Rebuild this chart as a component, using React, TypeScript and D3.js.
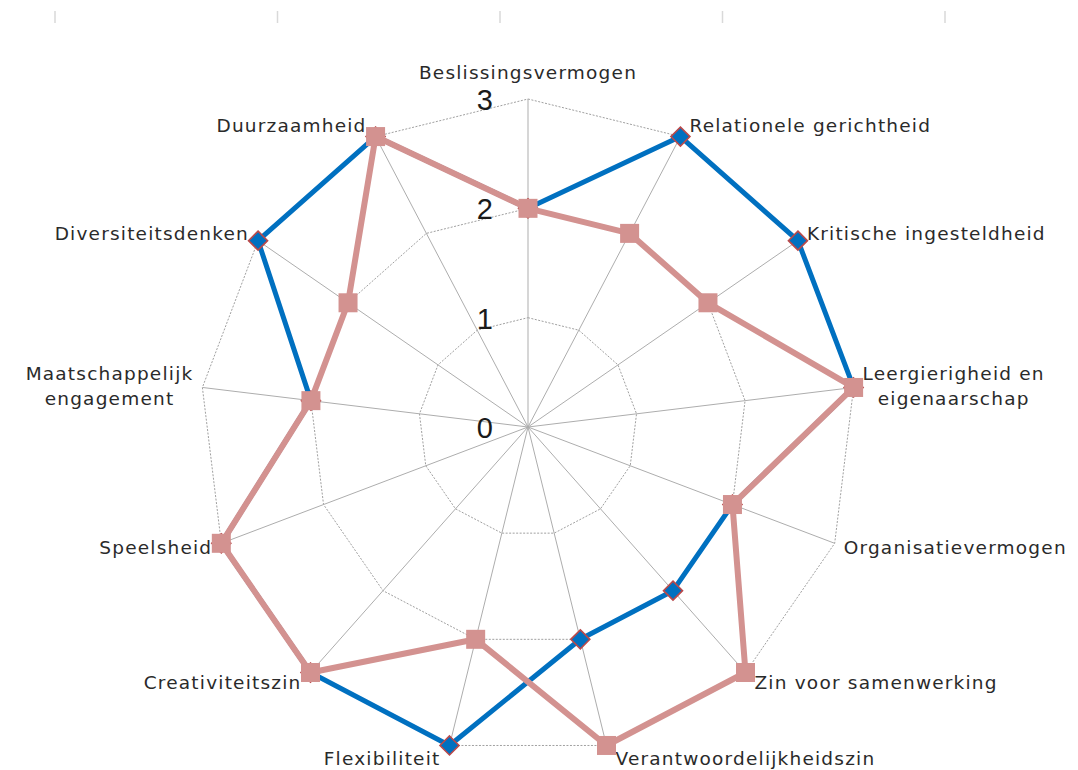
import React, { useEffect, useRef } from "react";
import * as d3 from "d3";

const categories: string[][] = [
  ["Beslissingsvermogen"],
  ["Relationele gerichtheid"],
  ["Kritische ingesteldheid"],
  ["Leergierigheid en", "eigenaarschap"],
  ["Organisatievermogen"],
  ["Zin voor samenwerking"],
  ["Verantwoordelijkheidszin"],
  ["Flexibiliteit"],
  ["Creativiteitszin"],
  ["Speelsheid"],
  ["Maatschappelijk", "engagement"],
  ["Diversiteitsdenken"],
  ["Duurzaamheid"],
];
const seriesBlue = [2, 3, 3, 3, 2, 2, 2, 3, 3, 3, 2, 3, 3];
const seriesPink = [2, 2, 2, 3, 2, 3, 3, 2, 3, 3, 2, 2, 3];
const tickValues = [0, 1, 2, 3];
const topMarks = [0, 1, 2, 3, 4];

const W = 1078;
const H = 770;
const CX = 528;
const CY = 427;
const R = 328;
const BLUE = "#0070C0";
const PINK = "#D39290";
const LABEL_FONT = "'DejaVu Sans', Verdana, sans-serif";

export default function App() {
  const ref = useRef<SVGSVGElement>(null);

  useEffect(() => {
    const svg = d3.select(ref.current);
    svg.selectAll("*").remove();
    const n = categories.length;
    const r = d3.scaleLinear().domain([0, 3]).range([0, R]);
    const ang = d3.scaleLinear().domain([0, n]).range([0, 2 * Math.PI]);
    const pt = (i: number, v: number): [number, number] => [
      CX + r(v) * Math.sin(ang(i)),
      CY - r(v) * Math.cos(ang(i)),
    ];

    // top decoration marks
    const tx = d3.scaleLinear().domain([0, 4]).range([55, 945]);
    svg
      .append("g")
      .selectAll("line")
      .data(topMarks)
      .join("line")
      .attr("x1", (d) => tx(d))
      .attr("x2", (d) => tx(d))
      .attr("y1", 11)
      .attr("y2", 23)
      .attr("stroke", "#d9d9d9")
      .attr("stroke-width", 1.5);

    const idx = d3.range(n);
    const g = svg.append("g");

    // rings
    tickValues
      .filter((v) => v > 0)
      .forEach((v) => {
        g.append("path")
          .attr("d", d3.line()(idx.map((i) => pt(i, v))) + "Z")
          .attr("fill", "none")
          .attr("stroke", "#a0a0a0")
          .attr("stroke-width", 1)
          .attr("stroke-dasharray", "2,1.5");
      });
    // spokes
    g.selectAll("line.spoke")
      .data(idx)
      .join("line")
      .attr("class", "spoke")
      .attr("x1", CX)
      .attr("y1", CY)
      .attr("x2", (i) => pt(i, 3)[0])
      .attr("y2", (i) => pt(i, 3)[1])
      .attr("stroke", "#adadad")
      .attr("stroke-width", 1);

    // tick labels
    g.selectAll("text.tick")
      .data(tickValues)
      .join("text")
      .attr("class", "tick")
      .attr("x", CX - 35)
      .attr("y", (v) => CY - r(v) + 11)
      .attr("text-anchor", "end")
      .attr("font-family", "'Liberation Sans', Arial, sans-serif")
      .attr("font-size", 29)
      .attr("fill", "#1a1a1a")
      .text((v) => String(v));

    // category labels
    idx.forEach((i) => {
      const a = ang(i);
      const s = Math.sin(a);
      const c = Math.cos(a);
      const [px, py] = pt(i, 3);
      const lines = categories[i];
      const t = g
        .append("text")
        .attr("font-family", LABEL_FONT)
        .attr("font-size", 18.5)
        .attr("letter-spacing", 1.2)
        .attr("fill", "#2a2a2a")
        .attr("text-anchor", "middle");
      const lh = 25;
      let cyText: number;
      if (Math.abs(s) < 0.1) {
        cyText = py - 27;
      } else {
        cyText = py - c * 13;
      }
      lines.forEach((ln, k) => {
        t.append("tspan")
          .attr("x", 0)
          .attr("y", cyText + 6.5 + (k - (lines.length - 1) / 2) * lh)
          .text(ln);
      });
      const w = (t.node() as SVGTextElement).getBBox().width;
      let x = px;
      if (Math.abs(s) >= 0.1) x = s > 0 ? px + 9 + w / 2 : px - 9 - w / 2;
      t.selectAll("tspan").attr("x", x);
    });

    const lineGen = d3.line<[number, number]>();
    const drawSeries = (vals: number[], color: string, width: number) => {
      const pts = vals.map((v, i) => pt(i, v));
      g.append("path")
        .attr("d", lineGen(pts) + "Z")
        .attr("fill", "none")
        .attr("stroke", color)
        .attr("stroke-width", width)
        .attr("stroke-linejoin", "round");
      return pts;
    };

    const bluePts = drawSeries(seriesBlue, BLUE, 5);
    g.selectAll("path.diamond")
      .data(bluePts)
      .join("path")
      .attr("class", "diamond")
      .attr("d", (p) => {
        const h = 9.5;
        return `M${p[0]},${p[1] - h}L${p[0] + h},${p[1]}L${p[0]},${p[1] + h}L${p[0] - h},${p[1]}Z`;
      })
      .attr("fill", BLUE)
      .attr("stroke", "#B9494A")
      .attr("stroke-width", 1.6);

    const pinkPts = drawSeries(seriesPink, PINK, 6);
    g.selectAll("rect.sq")
      .data(pinkPts)
      .join("rect")
      .attr("class", "sq")
      .attr("x", (p) => p[0] - 9.5)
      .attr("y", (p) => p[1] - 9.5)
      .attr("width", 19)
      .attr("height", 19)
      .attr("fill", PINK);
  }, []);

  return (
    <div style={{ position: "absolute", left: 0, top: 0 }}>
      <svg ref={ref} width={W} height={H} style={{ display: "block", background: "#fff" }} />
    </div>
  );
}
